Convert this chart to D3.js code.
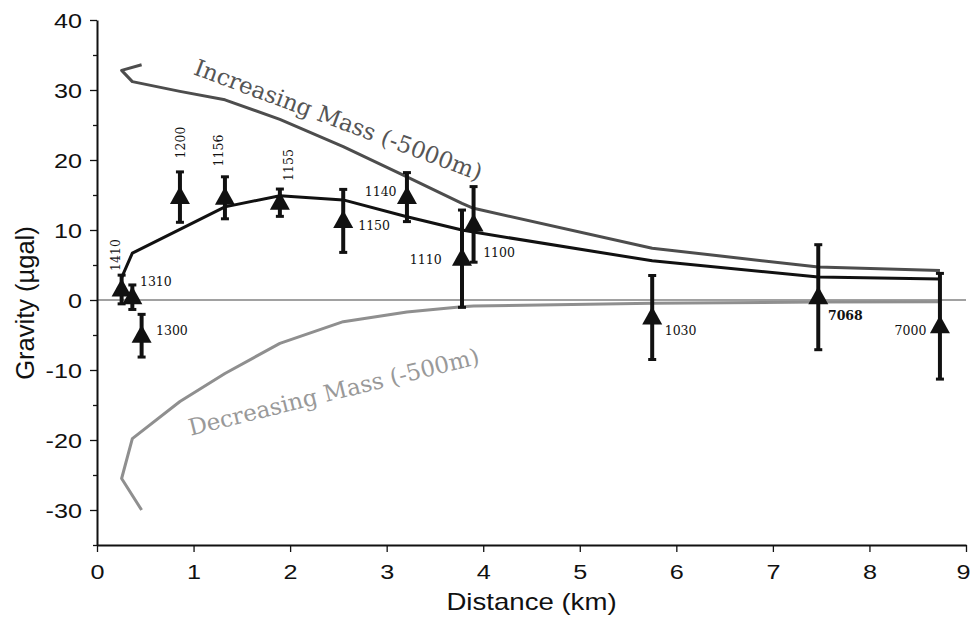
<!DOCTYPE html>
<html>
<head>
<meta charset="utf-8">
<script src="https://cdn.jsdelivr.net/npm/d3@7"></script>
<style>
  html, body { margin: 0; padding: 0; background: #fff; }
  svg { display: block; }
</style>
</head>
<body>
<svg id="chart" width="970" height="622"></svg>
<script>
// Gravity stations: distance along profile, observed anomaly and its uncertainty
const stations   = ["1410", "1310", "1300", "1200", "1156", "1155", "1150", "1140", "1110", "1100", "1030", "7068", "7000"];
const distanceKm = [0.255, 0.366, 0.462, 0.859, 1.325, 1.894, 2.55, 3.21, 3.78, 3.90, 5.75, 7.47, 8.73];
const gravity    = [1.5, 0.4, -5.1, 14.7, 14.6, 13.9, 11.3, 14.7, 5.9, 10.8, -2.5, 0.4, -3.75];
const gravityErr = [2.05, 1.75, 3.05, 3.6, 3.0, 1.95, 4.5, 3.5, 6.95, 5.4, 6.0, 7.5, 7.55];

// Modelled responses, evaluated station by station in this order
const modelOrder     = ["1300", "1410", "1310", "1200", "1156", "1155", "1150", "1140", "1110", "1100", "1030", "7068", "7000"];
const increasingMass = [33.6, 32.8, 31.2, 29.8, 28.6, 25.8, 21.9, 17.6, 13.8, 13.1, 7.4, 4.7, 4.2];
const decreasingMass = [-30, -25.5, -19.8, -14.5, -10.5, -6.2, -3.1, -1.7, -0.95, -0.85, -0.45, -0.3, -0.25];
const bestFitModel   = [null, 3.2, 6.7, 10.1, 13.3, 14.9, 14.3, 11.9, 10.0, 9.7, 5.6, 3.3, 3.0];

// Axis ticks
const xTicks = [0, 1, 2, 3, 4, 5, 6, 7, 8, 9];
const yTicks = [-30, -20, -10, 0, 10, 20, 30, 40];
const yMinorTicks = [-35, -25, -15, -5, 5, 15, 25, 35];

// Curve captions
const increasingLabel = "Increasing Mass (-5000m)";
const decreasingLabel = "Decreasing Mass (-500m)";

// ---- layout ----
const svg = d3.select("#chart");
const x = d3.scaleLinear().domain([0, 9]).range([97, 966]);
const y = d3.scaleLinear().domain([-35, 40]).range([545, 20]);
const sansStretch = 1.2;
const sans = "'Liberation Sans', Arial, Helvetica, sans-serif";
const serif = "'DejaVu Serif', 'Liberation Serif', serif";

// Station label placement (pixel offsets from the marker, rotation, anchor)
const stationLabelLayout = {
  "1410": { dx: -2,  dy: -34.5, rot: true },
  "1200": { dx: 5,   dy: -54.6, rot: true },
  "1156": { dx: -1.7, dy: -47.3, rot: true },
  "1155": { dx: 13.3, dy: -37.7, rot: true },
  "1310": { dx: 7.6, dy: -11.2, anchor: "start" },
  "1300": { dx: 14.4, dy: -0.7, anchor: "start" },
  "1150": { dx: 15,  dy: 9.1, anchor: "start" },
  "1140": { dx: -10.4, dy: -1.4, anchor: "end" },
  "1110": { dx: -20.4, dy: 5.6, anchor: "end" },
  "1100": { dx: 9.6, dy: 32.9, anchor: "start" },
  "1030": { dx: 12.5, dy: 17.5, anchor: "start" },
  "7068": { dx: 9.7, dy: 22.8, anchor: "start", bold: true },
  "7000": { dx: -13.6, dy: 8.75, anchor: "end" }
};

// ---- zero reference line ----
svg.append("line")
  .attr("x1", x(0)).attr("x2", x(9))
  .attr("y1", y(0)).attr("y2", y(0))
  .attr("stroke", "#444").attr("stroke-width", 1.2);

// ---- axes ----
const fmt = d => String(d);

const xAxis = svg.append("g")
  .attr("transform", `translate(0,${y(-35)})`)
  .call(d3.axisBottom(x).tickValues(xTicks).tickFormat(fmt).tickSize(7).tickSizeOuter(0).tickPadding(4));
xAxis.select(".domain").attr("stroke", "#111").attr("stroke-width", 2);
xAxis.selectAll(".tick line").attr("stroke", "#111").attr("stroke-width", 1.3);
xAxis.selectAll(".tick text")
  .attr("font-family", sans).attr("font-size", 21).attr("fill", "#111")
  .attr("dy", null).attr("y", null)
  // keep the last label inside the drawing area
  .attr("transform", d => `translate(${d === 9 ? -3 : 0},34) scale(${sansStretch},1)`);

const yAxis = svg.append("g")
  .attr("transform", `translate(${x(0)},0)`)
  .call(d3.axisLeft(y).tickValues(yTicks).tickFormat(fmt).tickSize(7).tickSizeOuter(0).tickPadding(15));
yAxis.select(".domain").attr("stroke", "#111").attr("stroke-width", 2);
yAxis.selectAll(".tick line").attr("stroke", "#111").attr("stroke-width", 1.3);
yAxis.selectAll(".tick text")
  .attr("font-family", sans).attr("font-size", 21).attr("fill", "#111")
  .attr("x", null).attr("dy", null)
  .attr("transform", `translate(-15,7.5) scale(${sansStretch},1)`);

const yMinor = svg.append("g")
  .attr("transform", `translate(${x(0)},0)`)
  .call(d3.axisLeft(y).tickValues(yMinorTicks).tickFormat("").tickSize(4).tickSizeOuter(0));
yMinor.select(".domain").remove();
yMinor.selectAll(".tick line").attr("stroke", "#111").attr("stroke-width", 1.3);

// axis titles
svg.append("text")
  .attr("transform", `translate(${(x(0) + x(9)) / 2},610) scale(${sansStretch},1)`)
  .attr("text-anchor", "middle")
  .attr("font-family", sans).attr("font-size", 23).attr("fill", "#111")
  .text("Distance (km)");

svg.append("text")
  .attr("transform", "translate(33.5,303) rotate(-90)")
  .attr("text-anchor", "middle")
  .attr("font-family", sans).attr("font-size", 25.5).attr("fill", "#111")
  .text("Gravity (µgal)");

// ---- model curves ----
const xOf = id => distanceKm[stations.indexOf(id)];
const curve = vals => modelOrder.map((id, i) => ({ x: xOf(id), v: vals[i] })).filter(d => d.v !== null);
const line = d3.line().x(d => x(d.x)).y(d => y(d.v));

svg.append("path").datum(curve(decreasingMass))
  .attr("d", line).attr("fill", "none")
  .attr("stroke", "#8f8f8f").attr("stroke-width", 3).attr("stroke-linejoin", "round");

svg.append("path").datum(curve(increasingMass))
  .attr("d", line).attr("fill", "none")
  .attr("stroke", "#4d4d4d").attr("stroke-width", 3).attr("stroke-linejoin", "round");

svg.append("path").datum(curve(bestFitModel))
  .attr("d", line).attr("fill", "none")
  .attr("stroke", "#111").attr("stroke-width", 3).attr("stroke-linejoin", "round");

// curve captions, anchored in data space
svg.append("text")
  .attr("transform", `translate(${x(0.99)},${y(32.3)}) rotate(20.5)`)
  .attr("font-family", serif).attr("font-size", 23).attr("fill", "#555")
  .text(increasingLabel);

svg.append("text")
  .attr("transform", `translate(${x(0.97)},${y(-19.4)}) rotate(-14)`)
  .attr("font-family", serif).attr("font-size", 23).attr("fill", "#999")
  .text(decreasingLabel);

// ---- observations: error bars and triangles ----
const obs = stations.map((id, i) => ({ id, d: distanceKm[i], g: gravity[i], e: gravityErr[i] }));

const triangle = {
  draw(ctx, size) {
    const hw = 10, top = -11, bot = 7;
    ctx.moveTo(0, top);
    ctx.lineTo(hw, bot);
    ctx.lineTo(-hw, bot);
    ctx.closePath();
  }
};

const pts = svg.append("g").selectAll("g").data(obs).join("g");

pts.append("line")
  .attr("x1", d => x(d.d)).attr("x2", d => x(d.d))
  .attr("y1", d => y(d.g + d.e)).attr("y2", d => y(d.g - d.e))
  .attr("stroke", "#111").attr("stroke-width", 4);

pts.append("rect")
  .attr("x", d => x(d.d) - 4).attr("y", d => y(d.g + d.e) - 1.5)
  .attr("width", 8).attr("height", 3).attr("fill", "#111");
pts.append("rect")
  .attr("x", d => x(d.d) - 4).attr("y", d => y(d.g - d.e) - 1.5)
  .attr("width", 8).attr("height", 3).attr("fill", "#111");

pts.append("path")
  .attr("d", d3.symbol().type(triangle)())
  .attr("transform", d => `translate(${x(d.d)},${y(d.g)})`)
  .attr("fill", "#111");

// station names
pts.append("text")
  .each(function (d) {
    const L = stationLabelLayout[d.id];
    const px = x(d.d) + L.dx, py = y(d.g) + L.dy;
    const t = d3.select(this)
      .attr("font-family", serif).attr("font-size", 12.5).attr("fill", "#111")
      .attr("font-weight", L.bold ? "bold" : "normal")
      .text(d.id);
    if (L.rot) {
      t.attr("transform", `translate(${px},${py}) rotate(-90)`).attr("text-anchor", "middle");
    } else {
      t.attr("transform", `translate(${px},${py})`).attr("text-anchor", L.anchor);
    }
  });
</script>
</body>
</html>
